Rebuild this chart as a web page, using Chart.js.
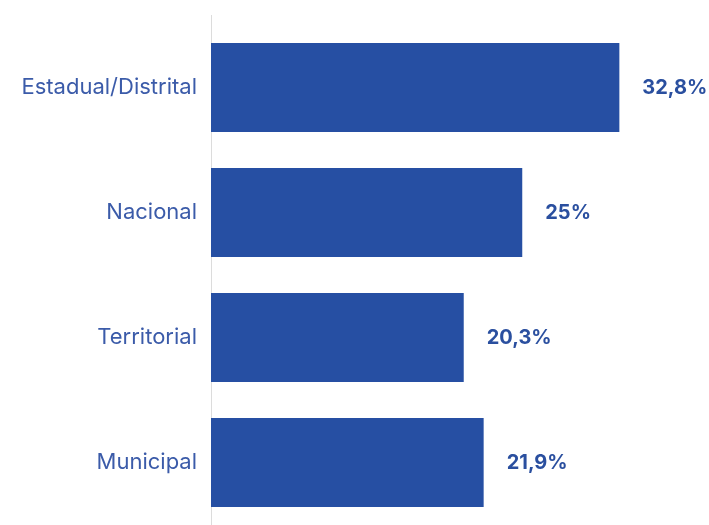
<!DOCTYPE html>
<html>
<head>
<meta charset="utf-8">
<script src="https://cdn.jsdelivr.net/npm/chart.js@4"></script>
<style>
  html, body { margin: 0; padding: 0; background: #fff; overflow: hidden; }
  #wrap { width: 709px; height: 525px; }
</style>
</head>
<body>
<div id="wrap"><canvas id="barChart"></canvas></div>
<script>
const categories = ['Estadual/Distrital', 'Nacional', 'Territorial', 'Municipal'];
const shares = [32.8, 25, 20.3, 21.9];
const shareLabels = ['32,8%', '25%', '20,3%', '21,9%'];

const barBlue = '#264fa3';
const labelBlue = '#3b5ba9';

// left axis line, running a bit above the first bar
const axisLine = {
  id: 'axisLine',
  beforeDatasetsDraw(chart) {
    const { ctx, chartArea } = chart;
    ctx.save();
    ctx.strokeStyle = '#dcdcdc';
    ctx.lineWidth = 1;
    ctx.beginPath();
    ctx.moveTo(chartArea.left + 0.5, chartArea.top - 10);
    ctx.lineTo(chartArea.left + 0.5, chartArea.bottom);
    ctx.stroke();
    ctx.restore();
  }
};

// percentage text at the end of each bar
const valueLabels = {
  id: 'valueLabels',
  afterDatasetsDraw(chart) {
    const { ctx } = chart;
    const meta = chart.getDatasetMeta(0);
    ctx.save();
    ctx.font = 'bold 20px Inter, sans-serif';
    ctx.fillStyle = '#2a4f9f';
    ctx.textAlign = 'left';
    ctx.textBaseline = 'middle';
    meta.data.forEach((bar, i) => {
      ctx.fillText(shareLabels[i], bar.x + 23, bar.y);
    });
    ctx.restore();
  }
};

new Chart(document.getElementById('barChart'), {
  type: 'bar',
  data: {
    labels: categories,
    datasets: [{
      data: shares,
      backgroundColor: barBlue,
      barPercentage: 0.712,
      categoryPercentage: 1
    }]
  },
  options: {
    indexAxis: 'y',
    responsive: true,
    maintainAspectRatio: false,
    animation: false,
    layout: { padding: { top: 25, right: 0, bottom: 0, left: 0 } },
    plugins: {
      legend: { display: false },
      tooltip: { enabled: false }
    },
    scales: {
      x: {
        display: false,
        min: 0,
        max: 40
      },
      y: {
        afterFit(scale) {
          scale.width = 211;
          scale.paddingTop = 0;
          scale.paddingBottom = 0;
        },
        grid: { display: false, drawTicks: false },
        border: { display: false },
        ticks: {
          padding: 14,
          color: labelBlue,
          font: { family: 'Inter, sans-serif', size: 22 }
        }
      }
    }
  },
  plugins: [axisLine, valueLabels]
});
</script>
</body>
</html>
